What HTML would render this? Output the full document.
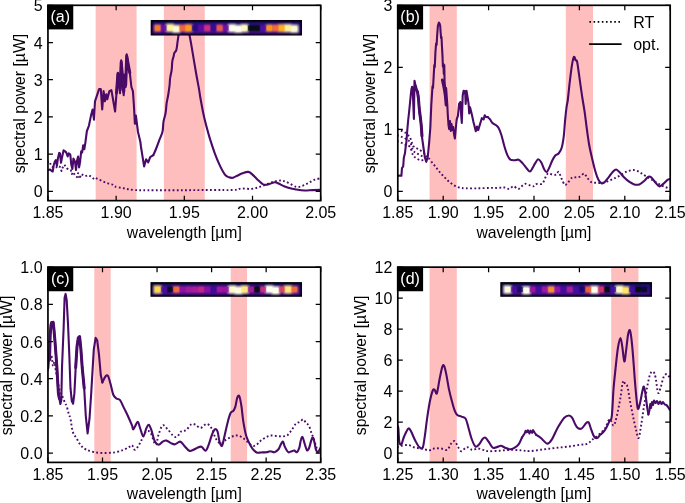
<!DOCTYPE html><html><head><meta charset="utf-8"><style>html,body{margin:0;padding:0;background:#fff;}svg{display:block;will-change:transform;}text{font-family:"Liberation Sans", sans-serif;font-size:16px;fill:#000;}</style></head><body>
<svg width="685" height="503" viewBox="0 0 685 503">
<defs><filter id="bl" x="-5%" y="-30%" width="110%" height="160%"><feGaussianBlur stdDeviation="1.0"/></filter><linearGradient id="sg" x1="0" y1="0" x2="0" y2="1"><stop offset="0" stop-color="#1e0874"/><stop offset="0.45" stop-color="#380a90"/><stop offset="1" stop-color="#4a0c9a"/></linearGradient><filter id="bl2"><feGaussianBlur stdDeviation="0.35"/></filter><filter id="bl3" x="-50%" y="-50%" width="200%" height="200%"><feGaussianBlur stdDeviation="0.5"/></filter></defs>
<rect width="685" height="503" fill="#fff"/>
<clipPath id="clipa"><rect x="47.95" y="5.30" width="272.75" height="195.35"/></clipPath>
<g clip-path="url(#clipa)">
<rect x="95.68" y="5.30" width="40.91" height="195.35" fill="#ffbebe"/>
<rect x="163.87" y="5.30" width="40.91" height="195.35" fill="#ffbebe"/>
<path d="M47.0,162.0 L49.5,161.5 L51.2,165.9 L53.8,167.9 L56.3,167.4 L57.4,165.9 L60.0,166.9 L61.5,171.0 L62.5,167.9 L64.4,164.8 L66.7,168.4 L70.8,170.0 L71.9,174.1 L72.9,172.1 L75.0,175.2 L77.0,177.2 L78.1,173.1 L79.6,178.8 L81.2,174.1 L85.3,176.2 L88.4,175.2 L91.5,176.7 L94.1,179.3 L95.6,178.1 L99.8,179.8" fill="none" stroke="#4a0b68" stroke-width="1.9" stroke-dasharray="1.8 2.35" stroke-linejoin="round"/>
<path d="M99.8,179.8 C100.5,180.2 102.5,181.3 103.9,181.9 C105.3,182.5 106.6,183.0 108.0,183.4 C109.4,183.8 111.1,184.0 112.2,184.5 C113.3,185.0 112.9,185.9 114.8,186.5 C116.7,187.1 120.5,187.7 123.7,188.3 C126.9,188.9 129.8,189.7 133.9,190.0 C138.0,190.3 140.0,190.2 148.0,190.2 C156.0,190.2 171.2,190.2 182.0,190.2 C192.8,190.2 204.2,190.0 212.7,190.0 C221.2,190.0 228.3,190.2 233.1,190.0 C237.9,189.8 238.2,188.7 241.3,188.5 C244.4,188.3 248.4,189.2 251.5,188.9 C254.6,188.6 257.0,187.8 259.7,186.9 C262.4,186.1 265.1,184.8 267.8,183.8 C270.5,182.8 273.6,181.6 276.0,181.1 C278.4,180.6 280.1,180.4 282.1,180.7 C284.2,181.0 285.9,181.8 288.3,182.8 C290.7,183.8 294.0,186.4 296.4,186.9 C298.8,187.4 300.6,186.5 302.6,185.8 C304.7,185.1 306.7,183.8 308.7,182.8 C310.7,181.8 312.6,180.5 314.8,179.7 C317.0,178.9 320.8,178.3 322.0,178.0" fill="none" stroke="#4a0b68" stroke-width="1.9" stroke-dasharray="1.8 2.35" stroke-linejoin="round"/>
<path d="M47.0,170.0 L48.6,170.0 L50.1,169.5 L51.7,171.0 L52.7,171.5 L53.8,164.8 L54.8,161.7 L55.8,160.2 L56.9,165.9 L57.9,158.6 L59.2,152.9 L60.0,153.4 L61.0,162.8 L62.0,157.6 L63.6,150.3 L65.1,151.4 L66.2,152.4 L67.7,156.5 L68.8,153.4 L70.3,154.5 L71.3,164.8 L72.4,169.0 L73.4,158.6 L75.0,161.7 L76.0,170.0 L77.0,160.7 L78.1,156.5 L79.1,167.4 L80.1,161.7 L81.2,151.4 L82.2,152.4 L83.2,145.2 L84.3,149.3 L85.3,143.1 L86.9,131.0 L88.9,125.8 L91.0,115.6 L92.6,109.5 L94.0,119.7 L95.0,101.3 L97.1,95.2 L99.1,89.0 L100.8,89.0 L102.2,109.5 L103.6,91.1 L104.9,101.3 L106.3,94.2 L107.3,99.3 L109.4,91.1 L111.4,90.1 L113.0,99.3 L115.1,111.5 L116.5,93.1 L117.9,72.7 L119.2,80.9 L120.0,93.1 L121.2,60.4 L122.6,80.9 L123.7,95.2 L124.7,74.7 L125.7,87.0 L126.7,54.3 L128.2,64.5 L129.8,72.7 L131.4,87.0 L132.9,91.1 L133.9,105.4 L134.9,123.8 L135.9,115.6 L138.0,132.0 L140.4,142.0 L141.0,147.0 L144.1,166.4 L146.1,159.3 L148.2,162.3 L150.2,157.2 L153.3,155.2" fill="none" stroke="#4a0b68" stroke-width="2.1" stroke-linejoin="round" stroke-linecap="round"/>
<path d="M153.3,155.2 C153.8,154.0 155.4,150.6 156.4,148.0 C157.4,145.4 158.4,142.6 159.4,139.9 C160.4,137.2 161.8,134.7 162.5,131.7 C163.2,128.7 163.0,124.8 163.5,121.7 C164.0,118.6 165.1,116.0 165.6,113.0 C166.1,110.0 166.2,106.4 166.6,103.4 C167.0,100.4 167.7,98.1 168.2,95.0 C168.7,91.9 169.3,87.9 169.6,85.0 C169.9,82.1 169.8,80.2 170.2,77.7 C170.5,75.2 171.3,72.7 171.7,70.0 C172.0,67.3 172.0,63.6 172.3,61.3 C172.6,59.0 173.4,57.4 173.7,56.0 C174.0,54.6 173.9,54.1 174.3,53.1 C174.7,52.1 175.8,51.8 176.3,50.1 C176.8,48.4 177.1,45.3 177.4,42.9 C177.8,40.5 178.1,37.6 178.4,35.8 C178.8,34.0 178.9,33.0 179.5,32.0 C180.1,31.0 181.1,30.3 182.0,30.0 C182.9,29.7 184.0,29.7 185.0,30.0 C186.0,30.3 187.2,31.0 188.0,32.0 C188.8,33.0 188.8,32.3 189.6,35.8 C190.4,39.3 191.7,47.1 192.7,53.1 C193.7,59.1 194.8,65.7 195.8,71.5 C196.8,77.3 198.0,83.5 198.8,87.9 C199.6,92.3 199.6,93.6 200.4,98.0 C201.2,102.4 202.5,109.5 203.5,114.3 C204.5,119.1 205.3,122.2 206.5,126.6 C207.7,131.0 209.2,136.5 210.6,140.9 C212.0,145.3 213.2,149.0 214.7,153.1 C216.2,157.2 218.1,161.8 219.8,165.4 C221.5,169.0 223.4,172.6 224.9,174.6 C226.4,176.6 227.6,176.8 229.0,177.3 C230.4,177.8 231.6,178.0 233.1,177.7 C234.6,177.3 236.5,176.0 238.2,175.2 C239.9,174.4 241.6,173.6 243.3,173.0 C245.0,172.4 246.9,171.6 248.4,171.9 C249.9,172.2 251.0,173.3 252.5,174.6 C254.0,175.9 255.9,178.1 257.6,179.7 C259.3,181.3 261.3,183.3 262.7,184.2 C264.1,185.0 264.6,184.9 265.8,184.8 C267.0,184.7 268.4,184.2 269.9,183.8 C271.4,183.4 273.5,182.2 275.0,182.2 C276.5,182.2 277.6,183.1 279.1,183.8 C280.6,184.5 282.3,185.4 284.2,186.2 C286.1,186.9 288.3,187.8 290.3,188.3 C292.3,188.9 294.0,189.1 296.4,189.5 C298.8,189.9 301.9,190.4 304.6,190.5 C307.3,190.6 309.9,190.2 312.8,190.1 C315.7,190.0 320.5,189.9 322.0,189.9" fill="none" stroke="#4a0b68" stroke-width="2.1" stroke-linejoin="round" stroke-linecap="round"/>
<path d="M116.5,93.0 L117.9,74.0 L119.2,80.0 L120.2,90.0 L121.2,62.0 L122.6,78.0 L123.7,92.0 L124.7,75.0 L125.7,85.0 L126.7,56.0 L128.2,64.5 L129.8,72.7" fill="none" stroke="#4a0b68" stroke-width="3.0" stroke-linejoin="round" stroke-linecap="round"/>
</g>
<rect x="150.70" y="20.00" width="151.30" height="15.50" fill="#000"/>
<g filter="url(#bl)">
<rect x="152.40" y="21.80" width="147.90" height="11.90" fill="url(#sg)"/>
<rect x="154.50" y="25.10" width="6.20" height="6.00" fill="#f57d25"/>
<rect x="160.71" y="25.10" width="6.20" height="6.00" fill="#6a0ea2"/>
<rect x="166.42" y="24.30" width="7.20" height="7.00" fill="#fff49a"/>
<rect x="172.63" y="25.50" width="7.20" height="7.00" fill="#fefad2"/>
<rect x="179.34" y="25.10" width="6.20" height="6.00" fill="#f0643c"/>
<rect x="185.05" y="24.60" width="7.20" height="7.00" fill="#fb9b1f"/>
<rect x="191.76" y="25.10" width="6.20" height="6.00" fill="#2a0a80"/>
<rect x="197.97" y="25.10" width="6.20" height="6.00" fill="#5a0ca4"/>
<rect x="204.18" y="25.10" width="6.20" height="6.00" fill="#c8307c"/>
<rect x="210.39" y="25.10" width="6.20" height="6.00" fill="#3a0a90"/>
<rect x="216.60" y="25.10" width="6.20" height="6.00" fill="#e65a4e"/>
<rect x="222.81" y="25.10" width="6.20" height="6.00" fill="#7010a0"/>
<rect x="228.52" y="24.60" width="7.20" height="7.00" fill="#fffff0"/>
<rect x="234.73" y="25.50" width="7.20" height="7.00" fill="#fffff0"/>
<rect x="240.94" y="24.60" width="7.20" height="7.00" fill="#fff8c8"/>
<rect x="247.65" y="25.10" width="6.20" height="6.00" fill="#061010"/>
<rect x="253.86" y="25.10" width="6.20" height="6.00" fill="#061010"/>
<rect x="260.07" y="25.10" width="6.20" height="6.00" fill="#4a10a0"/>
<rect x="266.28" y="25.10" width="6.20" height="6.00" fill="#fb9414"/>
<rect x="272.49" y="25.10" width="6.20" height="6.00" fill="#f06a3a"/>
<rect x="278.20" y="24.60" width="7.20" height="7.00" fill="#ffb020"/>
<rect x="284.41" y="24.60" width="7.20" height="7.00" fill="#fff0a0"/>
<rect x="290.62" y="25.40" width="7.20" height="7.00" fill="#fffbd8"/>
</g>
<rect x="155.00" y="25.60" width="5.20" height="5.00" fill="#f57d25" opacity="0.85"/>
<rect x="161.21" y="25.60" width="5.20" height="5.00" fill="#6a0ea2" opacity="0.85"/>
<rect x="167.42" y="25.30" width="5.20" height="5.00" fill="#fff49a" opacity="0.85"/>
<rect x="173.63" y="26.50" width="5.20" height="5.00" fill="#fefad2" opacity="0.85"/>
<rect x="179.84" y="25.60" width="5.20" height="5.00" fill="#f0643c" opacity="0.85"/>
<rect x="186.05" y="25.60" width="5.20" height="5.00" fill="#fb9b1f" opacity="0.85"/>
<rect x="192.26" y="25.60" width="5.20" height="5.00" fill="#2a0a80" opacity="0.85"/>
<rect x="198.47" y="25.60" width="5.20" height="5.00" fill="#5a0ca4" opacity="0.85"/>
<rect x="204.68" y="25.60" width="5.20" height="5.00" fill="#c8307c" opacity="0.85"/>
<rect x="210.89" y="25.60" width="5.20" height="5.00" fill="#3a0a90" opacity="0.85"/>
<rect x="217.10" y="25.60" width="5.20" height="5.00" fill="#e65a4e" opacity="0.85"/>
<rect x="223.31" y="25.60" width="5.20" height="5.00" fill="#7010a0" opacity="0.85"/>
<rect x="229.52" y="25.60" width="5.20" height="5.00" fill="#fffff0" opacity="0.85"/>
<rect x="235.73" y="26.50" width="5.20" height="5.00" fill="#fffff0" opacity="0.85"/>
<rect x="241.94" y="25.60" width="5.20" height="5.00" fill="#fff8c8" opacity="0.85"/>
<rect x="248.15" y="25.60" width="5.20" height="5.00" fill="#061010" opacity="0.85"/>
<rect x="254.36" y="25.60" width="5.20" height="5.00" fill="#061010" opacity="0.85"/>
<rect x="260.57" y="25.60" width="5.20" height="5.00" fill="#4a10a0" opacity="0.85"/>
<rect x="266.78" y="25.60" width="5.20" height="5.00" fill="#fb9414" opacity="0.85"/>
<rect x="272.99" y="25.60" width="5.20" height="5.00" fill="#f06a3a" opacity="0.85"/>
<rect x="279.20" y="25.60" width="5.20" height="5.00" fill="#ffb020" opacity="0.85"/>
<rect x="285.41" y="25.60" width="5.20" height="5.00" fill="#fff0a0" opacity="0.85"/>
<rect x="291.62" y="26.40" width="5.20" height="5.00" fill="#fffbd8" opacity="0.85"/>
<rect x="47.05" y="4.80" width="26.2" height="24.6" fill="#000"/>
<text x="60.25" y="21.80" text-anchor="middle" style="fill:#fff">(a)</text>
<rect x="47.95" y="5.30" width="272.75" height="195.35" fill="none" stroke="#000" stroke-width="1.70"/>
<text x="47.95" y="217.95" text-anchor="middle">1.85</text>
<text x="116.14" y="217.95" text-anchor="middle">1.90</text>
<text x="184.32" y="217.95" text-anchor="middle">1.95</text>
<text x="252.51" y="217.95" text-anchor="middle">2.00</text>
<text x="320.70" y="217.95" text-anchor="middle">2.05</text>
<text x="42.55" y="197.45" text-anchor="end">0</text>
<text x="42.55" y="160.24" text-anchor="end">1</text>
<text x="42.55" y="123.03" text-anchor="end">2</text>
<text x="42.55" y="85.82" text-anchor="end">3</text>
<text x="42.55" y="48.61" text-anchor="end">4</text>
<text x="42.55" y="11.40" text-anchor="end">5</text>
<path d="M47.95,200.65 v-5.00 M47.95,5.30 v5.00 M116.14,200.65 v-5.00 M116.14,5.30 v5.00 M184.32,200.65 v-5.00 M184.32,5.30 v5.00 M252.51,200.65 v-5.00 M252.51,5.30 v5.00 M320.70,200.65 v-5.00 M320.70,5.30 v5.00 M47.95,191.35 h5.00 M320.70,191.35 h-5.00 M47.95,154.14 h5.00 M320.70,154.14 h-5.00 M47.95,116.93 h5.00 M320.70,116.93 h-5.00 M47.95,79.72 h5.00 M320.70,79.72 h-5.00 M47.95,42.51 h5.00 M320.70,42.51 h-5.00 M47.95,5.30 h5.00 M320.70,5.30 h-5.00" stroke="#000" stroke-width="1.25" fill="none"/>
<text x="184.32" y="237.50" text-anchor="middle" style="font-size:15.75px">wavelength [µm]</text>
<text transform="translate(25.10,103.58) rotate(-90)" text-anchor="middle" style="font-size:15.75px">spectral power [µW]</text>
<clipPath id="clipb"><rect x="397.80" y="5.30" width="272.40" height="195.35"/></clipPath>
<g clip-path="url(#clipb)">
<rect x="429.58" y="5.30" width="27.24" height="195.35" fill="#ffbebe"/>
<rect x="565.78" y="5.30" width="27.24" height="195.35" fill="#ffbebe"/>
<path d="M397.0,141.0 C397.8,141.3 400.5,142.3 402.0,143.0 C403.5,143.7 404.7,144.3 406.0,145.0 C407.3,145.7 408.8,145.3 410.0,147.0 C411.2,148.7 412.0,153.2 413.0,155.0 C414.0,156.8 414.8,157.2 416.0,158.0 C417.2,158.8 418.7,159.7 420.0,160.0 C421.3,160.3 422.6,160.2 424.0,160.0 C425.4,159.8 427.9,158.8 428.7,158.5" fill="none" stroke="#4a0b68" stroke-width="1.9" stroke-dasharray="1.8 2.35" stroke-linejoin="round"/>
<path d="M397.0,135.0 C397.8,135.3 400.5,136.3 402.0,137.0 C403.5,137.7 404.7,138.2 406.0,139.0 C407.3,139.8 408.8,140.2 410.0,142.0 C411.2,143.8 412.0,148.2 413.0,150.0 C414.0,151.8 414.8,152.2 416.0,153.0 C417.2,153.8 418.7,154.3 420.0,155.0 C421.3,155.7 422.6,156.5 424.0,157.0 C425.4,157.5 427.9,158.0 428.7,158.2" fill="none" stroke="#4a0b68" stroke-width="1.9" stroke-dasharray="1.8 2.35" stroke-linejoin="round"/>
<path d="M397.0,129.0 L402.0,131.0 L406.0,133.0 L410.0,137.0 L413.0,146.0 L416.0,148.0 L420.0,150.0 L424.0,153.0 L428.7,158.2" fill="none" stroke="#4a0b68" stroke-width="1.9" stroke-dasharray="1.8 2.35" stroke-linejoin="round"/>
<path d="M428.7,158.2 C429.4,159.1 431.4,161.7 432.8,163.4 C434.2,165.1 435.5,166.8 436.9,168.5 C438.3,170.2 439.6,172.1 441.0,173.6 C442.4,175.1 443.6,176.3 445.0,177.7 C446.4,179.0 447.6,180.4 449.1,181.7 C450.6,183.0 452.5,184.4 454.2,185.4 C455.9,186.4 457.5,187.0 459.4,187.5 C461.3,188.0 462.4,188.2 465.5,188.3 C468.6,188.4 473.6,188.4 477.7,188.3 C481.8,188.2 486.6,188.0 490.0,187.9 C493.4,187.8 495.8,188.0 498.2,187.9 C500.6,187.8 502.4,187.3 504.3,187.5 C506.2,187.7 507.9,189.1 509.4,188.9 C510.9,188.7 512.0,186.2 513.5,186.2 C515.0,186.2 516.7,189.3 518.6,188.9 C520.5,188.5 522.8,184.3 524.8,183.8 C526.8,183.3 529.4,185.4 530.9,185.8 C532.4,186.2 533.0,186.5 534.0,186.2 C535.0,185.9 535.6,184.2 537.0,183.8 C538.4,183.4 540.8,184.8 542.2,183.8 C543.6,182.8 544.3,179.5 545.3,177.7 C546.3,175.9 547.1,173.7 548.3,173.2 C549.5,172.7 551.0,174.4 552.4,174.6 C553.8,174.8 555.5,175.0 556.5,174.6 C557.5,174.2 557.8,171.2 558.6,171.9 C559.5,172.6 560.6,176.5 561.6,178.7 C562.6,180.8 563.7,184.1 564.7,184.8 C565.7,185.5 566.6,184.0 567.8,182.8 C569.0,181.6 570.5,178.6 571.9,177.7 C573.2,176.8 574.5,177.5 575.9,177.3 C577.2,177.1 578.6,177.2 580.0,176.6 C581.4,176.0 582.9,173.4 584.1,173.6 C585.3,173.8 586.0,176.3 587.2,177.7 C588.4,179.1 589.8,181.3 591.3,182.2 C592.8,183.0 594.7,182.7 596.4,182.8 C598.1,182.9 599.6,183.1 601.5,182.8 C603.4,182.6 605.6,182.0 607.6,181.3 C609.6,180.6 611.7,179.6 613.7,178.7 C615.8,177.8 617.7,176.8 619.9,175.6 C622.1,174.4 624.6,172.4 627.0,171.5 C629.4,170.6 632.0,169.9 634.2,170.1 C636.4,170.3 638.3,171.5 640.3,172.6 C642.3,173.7 644.3,175.3 646.4,176.6 C648.5,177.9 650.5,179.1 652.6,180.3 C654.7,181.5 656.7,182.7 658.7,183.8 C660.7,184.9 662.6,186.0 664.8,186.9 C667.0,187.8 670.8,188.7 672.0,189.0" fill="none" stroke="#4a0b68" stroke-width="1.9" stroke-dasharray="1.8 2.35" stroke-linejoin="round"/>
<path d="M397.0,176.0 L398.5,175.5 L401.4,175.8 L402.0,168.0 L403.2,166.3 L403.8,158.0 L405.0,153.0 L405.5,148.4 L406.5,141.0 L407.3,129.7 L408.2,120.0 L409.1,111.8 L410.0,103.0 L410.9,93.9 L411.5,89.0 L412.1,86.7 L412.7,88.0 L413.3,105.0 L413.9,119.0 L414.2,100.0 L414.5,80.7 L415.2,84.0 L415.7,88.0 L416.5,90.0 L417.5,91.5 L418.2,96.0 L418.7,100.0 L419.3,112.0 L420.5,118.0 L421.2,125.0 L421.8,135.6 L423.3,146.5 L424.9,157.5 L426.2,161.8 L427.7,157.5 L429.2,142.2 L430.3,128.0 L431.3,104.8 L432.5,86.4 L433.0,88.0 L433.6,77.5 L434.3,65.0 L434.8,67.0 L435.4,52.5 L436.1,43.6 L436.6,45.0 L437.1,36.4 L437.9,25.7 L438.9,22.5 L439.6,23.5 L440.2,25.7 L440.6,32.0 L441.1,38.2 L441.5,37.0 L442.0,47.1 L442.5,56.1 L442.9,66.8 L443.4,64.0 L443.8,73.9 L444.3,65.0 L444.6,82.9 L445.5,90.0 L446.1,88.0 L446.4,91.8 L447.3,104.8 L447.8,115.0 L448.5,125.0 L449.2,129.0 L450.0,121.0 L450.8,131.0 L451.5,124.0 L452.3,130.0 L453.2,127.0 L454.0,134.0 L454.9,138.5 L455.8,128.0 L456.7,119.4 L457.9,115.8 L459.1,103.9 L460.3,102.0 L461.2,115.8 L461.8,123.0 L462.7,95.5 L463.6,90.7 L465.1,91.3 L465.7,103.9 L466.5,90.7 L467.7,97.9 L468.6,103.9 L469.2,113.4 L470.1,107.4 L471.6,113.4 L473.4,121.8 L474.6,126.5 L475.8,131.3 L477.0,126.5 L478.2,130.1 L480.0,124.2 L481.8,118.2 L483.6,119.4 L484.7,115.2 L485.9,117.0 L487.7,117.0" fill="none" stroke="#4a0b68" stroke-width="2.1" stroke-linejoin="round" stroke-linecap="round"/>
<path d="M487.7,117.0 C488.1,117.4 489.3,118.4 490.1,119.4 C490.9,120.4 491.5,122.0 492.5,123.0 C493.5,124.0 495.1,124.5 496.1,125.3 C497.1,126.1 497.6,126.1 498.5,127.7 C499.4,129.3 500.3,131.6 501.3,134.7 C502.3,137.8 503.3,142.6 504.3,146.0 C505.3,149.4 506.4,152.9 507.4,155.2 C508.4,157.5 509.2,158.8 510.4,159.7 C511.6,160.5 513.1,160.3 514.5,160.3 C515.9,160.3 517.2,159.2 518.6,159.7 C520.0,160.2 521.3,161.9 522.7,163.4 C524.1,164.9 525.6,167.2 526.8,168.5 C528.0,169.8 528.9,171.7 529.9,171.5 C530.9,171.3 532.0,168.8 532.9,167.4 C533.8,166.1 534.2,164.8 535.1,163.4 C536.0,162.1 537.1,159.5 538.1,159.3 C539.1,159.1 540.2,160.6 541.2,162.3 C542.2,164.0 543.4,167.9 544.3,169.5 C545.2,171.1 545.9,172.2 546.7,171.9 C547.6,171.6 548.5,169.3 549.4,167.4 C550.3,165.5 551.4,162.3 552.4,160.3 C553.4,158.3 554.5,156.3 555.5,155.2 C556.5,154.1 557.6,154.7 558.6,153.5 C559.6,152.3 560.8,150.8 561.6,148.0 C562.5,145.2 563.1,141.4 563.7,136.8 C564.3,132.2 564.6,125.5 565.1,120.4 C565.6,115.3 566.2,109.5 566.7,106.1 C567.2,102.7 567.3,104.1 567.8,100.0 C568.3,95.9 569.1,87.5 569.8,81.7 C570.5,75.9 571.3,69.4 571.9,65.4 C572.5,61.4 573.1,59.2 573.5,57.8 C573.9,56.4 574.2,56.8 574.5,57.2 C574.8,57.6 575.1,59.6 575.5,60.3 C575.9,61.0 576.5,59.4 577.0,61.3 C577.5,63.2 578.0,67.4 578.6,71.5 C579.2,75.6 579.9,81.0 580.6,85.8 C581.3,90.5 582.0,95.6 582.7,100.0 C583.4,104.4 584.0,107.5 584.7,112.3 C585.4,117.1 586.0,123.1 586.8,128.6 C587.5,134.0 588.3,139.9 589.2,145.0 C590.1,150.1 591.3,154.9 592.3,159.3 C593.3,163.7 594.4,168.1 595.4,171.5 C596.4,174.9 597.4,177.8 598.4,179.7 C599.4,181.6 600.5,182.8 601.5,183.2 C602.5,183.6 603.4,183.2 604.6,182.2 C605.8,181.2 607.2,179.0 608.6,177.3 C610.0,175.6 611.4,173.2 612.7,171.9 C614.0,170.6 615.0,169.4 616.2,169.5 C617.4,169.6 618.6,171.3 619.9,172.6 C621.2,173.9 622.5,175.8 624.0,177.3 C625.5,178.8 627.4,180.5 629.1,181.7 C630.8,182.9 632.5,183.9 634.2,184.4 C635.9,184.9 637.6,185.0 639.3,184.4 C641.0,183.8 642.9,182.0 644.4,180.7 C645.9,179.4 647.3,177.1 648.5,176.6 C649.7,176.1 650.4,176.7 651.6,177.7 C652.8,178.7 654.2,181.4 655.6,182.8 C657.0,184.2 658.3,186.3 659.7,186.4 C661.1,186.5 662.4,184.5 663.8,183.4 C665.2,182.3 666.5,180.5 667.9,179.7 C669.3,178.9 671.3,178.7 672.0,178.5" fill="none" stroke="#4a0b68" stroke-width="2.1" stroke-linejoin="round" stroke-linecap="round"/>
<path d="M415.3,86.0 L416.5,90.0 L417.5,92.0 L418.4,98.0 L419.2,108.0 L420.3,117.0 L421.3,126.0 L422.0,136.0" fill="none" stroke="#4a0b68" stroke-width="3.0" stroke-linejoin="round" stroke-linecap="round"/>
<path d="M442.4,80.0 L443.5,85.0 L444.5,90.0 L445.4,96.0 L446.2,105.0" fill="none" stroke="#4a0b68" stroke-width="3.0" stroke-linejoin="round" stroke-linecap="round"/>
</g>
<rect x="396.90" y="4.80" width="26.2" height="24.6" fill="#000"/>
<text x="410.10" y="21.80" text-anchor="middle" style="fill:#fff">(b)</text>
<rect x="397.80" y="5.30" width="272.40" height="195.35" fill="none" stroke="#000" stroke-width="1.70"/>
<text x="397.80" y="217.95" text-anchor="middle">1.85</text>
<text x="443.20" y="217.95" text-anchor="middle">1.90</text>
<text x="488.60" y="217.95" text-anchor="middle">1.95</text>
<text x="534.00" y="217.95" text-anchor="middle">2.00</text>
<text x="579.40" y="217.95" text-anchor="middle">2.05</text>
<text x="624.80" y="217.95" text-anchor="middle">2.10</text>
<text x="670.20" y="217.95" text-anchor="middle">2.15</text>
<text x="392.40" y="197.45" text-anchor="end">0</text>
<text x="392.40" y="135.43" text-anchor="end">1</text>
<text x="392.40" y="73.42" text-anchor="end">2</text>
<text x="392.40" y="11.40" text-anchor="end">3</text>
<path d="M397.80,200.65 v-5.00 M397.80,5.30 v5.00 M443.20,200.65 v-5.00 M443.20,5.30 v5.00 M488.60,200.65 v-5.00 M488.60,5.30 v5.00 M534.00,200.65 v-5.00 M534.00,5.30 v5.00 M579.40,200.65 v-5.00 M579.40,5.30 v5.00 M624.80,200.65 v-5.00 M624.80,5.30 v5.00 M670.20,200.65 v-5.00 M670.20,5.30 v5.00 M397.80,191.35 h5.00 M670.20,191.35 h-5.00 M397.80,129.33 h5.00 M670.20,129.33 h-5.00 M397.80,67.32 h5.00 M670.20,67.32 h-5.00 M397.80,5.30 h5.00 M670.20,5.30 h-5.00" stroke="#000" stroke-width="1.25" fill="none"/>
<text x="534.00" y="237.50" text-anchor="middle" style="font-size:15.75px">wavelength [µm]</text>
<text transform="translate(374.95,103.58) rotate(-90)" text-anchor="middle" style="font-size:15.75px">spectral power [µW]</text>
<clipPath id="clipc"><rect x="47.95" y="267.15" width="272.75" height="195.25"/></clipPath>
<g clip-path="url(#clipc)">
<rect x="94.32" y="267.15" width="16.37" height="195.25" fill="#ffbebe"/>
<rect x="230.69" y="267.15" width="16.36" height="195.25" fill="#ffbebe"/>
<path d="M47.0,360.0 C47.3,358.7 48.1,352.0 48.6,352.0 C49.1,352.0 49.5,359.3 50.0,360.0 C50.5,360.7 51.0,355.0 51.5,356.0 C52.0,357.0 52.5,365.0 53.0,366.0 C53.5,367.0 54.0,361.0 54.5,362.0 C55.0,363.0 55.5,369.3 56.0,372.0 C56.5,374.7 57.1,375.3 57.6,378.0 C58.1,380.7 58.4,385.5 59.0,388.0 C59.6,390.5 60.3,391.3 61.0,393.0 C61.7,394.7 62.3,396.2 63.0,398.0 C63.7,399.8 64.8,402.4 65.4,403.7 C66.0,405.0 66.2,404.4 66.7,406.0 C67.2,407.6 67.9,410.8 68.5,413.0 C69.1,415.2 69.8,415.8 70.5,419.0 C71.2,422.2 71.8,428.8 72.9,432.1 C74.0,435.4 75.6,436.6 76.9,438.8 C78.2,441.0 79.3,443.7 80.9,445.5 C82.5,447.3 84.0,448.5 86.3,449.6 C88.5,450.7 91.3,451.6 94.4,452.2 C97.5,452.8 101.5,453.0 105.1,453.0 C108.7,453.0 112.8,452.8 115.9,452.2 C119.0,451.6 121.7,450.5 123.9,449.6 C126.1,448.7 128.0,447.6 129.3,446.9 C130.7,446.2 131.0,444.7 132.0,445.2 C133.0,445.7 133.7,450.2 135.1,449.8 C136.5,449.4 138.5,445.6 140.2,442.7 C141.9,439.8 143.6,434.1 145.3,432.4 C147.0,430.7 148.7,430.3 150.4,432.4 C152.1,434.4 154.1,444.3 155.5,444.7 C156.9,445.1 157.4,437.7 158.6,434.5 C159.8,431.3 161.2,426.2 162.7,425.3 C164.2,424.4 166.1,427.7 167.8,429.4 C169.5,431.1 171.4,434.2 172.9,435.5 C174.4,436.8 175.6,437.6 177.0,436.9 C178.4,436.2 179.6,432.5 181.1,431.4 C182.6,430.2 184.5,431.2 186.2,430.0 C187.9,428.8 189.8,425.2 191.3,424.3 C192.8,423.4 193.9,424.1 195.4,424.7 C196.9,425.3 198.6,428.1 200.5,428.0 C202.4,427.9 204.7,423.8 206.6,423.9 C208.5,424.0 210.2,425.9 211.7,428.4 C213.2,430.8 214.3,436.1 215.8,438.6 C217.3,441.2 219.2,443.5 220.9,443.7 C222.6,443.9 224.2,440.8 226.1,439.6 C228.0,438.4 230.3,437.2 232.2,436.5 C234.1,435.8 235.6,435.3 237.3,435.5 C239.0,435.7 240.8,436.6 242.4,437.6 C244.0,438.6 245.4,440.1 247.0,441.5 C248.6,442.9 250.7,445.1 252.2,445.7 C253.7,446.3 254.8,445.9 256.2,445.1 C257.6,444.3 258.8,442.4 260.3,441.1 C261.8,439.9 263.7,438.5 265.4,437.6 C267.1,436.7 268.5,435.9 270.4,435.6 C272.2,435.3 274.5,435.9 276.5,436.0 C278.5,436.1 280.7,436.6 282.6,436.4 C284.5,436.2 286.2,436.1 287.7,435.0 C289.2,433.9 290.3,431.8 291.7,429.9 C293.1,428.0 294.4,425.1 295.8,423.8 C297.2,422.5 298.6,422.5 299.8,421.8 C301.1,421.1 302.3,419.2 303.3,419.4 C304.3,419.6 304.9,421.7 305.9,422.8 C306.8,423.9 308.1,424.2 309.0,425.9 C309.9,427.6 310.7,431.0 311.4,433.0 C312.1,435.0 312.6,435.8 313.4,438.0 C314.2,440.2 315.3,443.7 316.1,446.1 C316.9,448.5 317.3,451.6 318.1,452.2 C318.9,452.8 320.5,450.4 321.0,450.0" fill="none" stroke="#4a0b68" stroke-width="1.9" stroke-dasharray="1.8 2.35" stroke-linejoin="round"/>
<path d="M47.0,372.0 L48.3,368.0 L49.3,355.0 L50.2,335.0 L51.0,325.0 L51.7,322.5 L52.4,326.0 L53.2,322.3 L54.0,330.0 L55.0,341.7 L56.0,355.0 L56.9,367.5 L57.7,382.0 L58.4,393.4 L59.4,398.5 L60.4,404.0 L61.3,400.0 L62.0,367.5 L62.8,348.0 L63.6,328.8 L64.6,297.8 L65.6,293.9 L66.7,300.3 L68.0,323.6 L69.3,354.6 L70.5,388.2 L71.8,401.1 L73.1,403.7 L74.4,393.4 L75.7,367.5 L77.0,346.8 L78.3,337.8 L79.6,336.5 L80.9,349.4 L82.2,367.5 L84.2,388.2 L85.8,416.0 L87.6,433.4 L89.5,418.7 L91.2,393.4 L93.8,349.4 L95.6,337.8 L97.2,340.4 L99.0,354.6 L100.8,375.3 L102.4,382.4" fill="none" stroke="#4a0b68" stroke-width="2.1" stroke-linejoin="round" stroke-linecap="round"/>
<path d="M102.4,382.4 C102.9,381.5 104.2,378.1 105.1,377.0 C106.0,375.9 106.9,374.6 107.8,375.7 C108.7,376.8 109.6,380.6 110.5,383.7 C111.4,386.8 112.2,392.0 113.2,394.5 C114.2,397.0 115.3,397.6 116.4,398.5 C117.5,399.4 118.7,398.3 119.9,399.9 C121.2,401.5 122.6,405.2 123.9,407.9 C125.2,410.6 126.6,413.1 127.9,416.0 C129.2,418.9 131.1,423.2 132.0,425.4 C132.9,427.6 132.6,429.2 133.1,429.4 C133.6,429.5 134.3,427.6 135.1,426.3 C135.9,425.0 137.0,421.5 137.8,421.8 C138.7,422.1 139.3,425.9 140.2,428.4 C141.1,430.8 142.3,436.5 143.3,436.5 C144.3,436.5 145.4,430.4 146.3,428.4 C147.2,426.4 147.9,424.4 148.8,424.7 C149.7,425.0 150.6,427.8 151.5,430.4 C152.4,433.0 153.3,438.2 154.5,440.6 C155.7,443.0 157.2,444.5 158.6,444.7 C160.0,444.9 161.4,442.3 162.7,441.6 C164.0,440.9 165.0,440.4 166.4,440.6 C167.8,440.9 169.5,442.5 170.9,443.1 C172.3,443.7 173.5,444.6 175.0,444.3 C176.5,444.1 178.6,441.4 180.1,441.6 C181.6,441.8 182.7,444.2 184.2,445.7 C185.7,447.2 187.8,450.1 189.3,450.8 C190.8,451.5 192.1,450.3 193.4,449.8 C194.8,449.3 196.1,448.3 197.4,447.8 C198.8,447.3 200.1,446.2 201.5,446.7 C202.9,447.2 204.4,451.1 205.6,450.8 C206.8,450.5 207.7,447.2 208.7,444.7 C209.7,442.1 210.7,438.1 211.7,435.5 C212.7,432.9 213.8,430.1 214.8,429.4 C215.8,428.7 216.7,429.4 217.5,431.4 C218.3,433.4 218.8,439.2 219.5,441.6 C220.2,444.0 221.2,446.6 222.0,445.7 C222.8,444.8 223.5,440.4 224.4,436.5 C225.3,432.6 226.7,426.1 227.7,422.2 C228.7,418.3 229.7,414.9 230.6,413.0 C231.5,411.1 232.4,412.0 233.2,411.0 C234.0,410.0 234.6,409.1 235.3,406.9 C236.0,404.7 236.6,399.5 237.3,397.7 C238.0,395.9 238.6,394.7 239.3,396.1 C240.0,397.5 240.7,401.5 241.4,405.9 C242.1,410.2 242.6,417.3 243.4,422.2 C244.2,427.1 245.1,431.9 246.1,435.5 C247.1,439.1 248.5,441.5 249.6,443.7 C250.7,445.9 251.4,447.3 252.6,448.8 C253.8,450.3 255.3,451.9 256.7,452.5 C258.1,453.1 259.2,452.6 260.8,452.5 C262.4,452.4 264.8,452.4 266.4,452.2 C268.0,452.0 269.0,451.2 270.4,451.2 C271.8,451.2 273.1,452.5 274.5,452.2 C275.9,451.9 277.4,450.5 278.5,449.2 C279.6,447.9 280.2,445.4 281.0,444.1 C281.8,442.9 282.3,441.2 283.0,441.7 C283.7,442.2 284.1,445.4 285.0,447.1 C285.9,448.9 287.2,451.5 288.3,452.2 C289.4,452.9 290.7,451.5 291.7,451.2 C292.7,450.9 293.5,450.4 294.4,450.6 C295.2,450.8 296.0,452.6 296.8,452.2 C297.6,451.8 298.5,450.2 299.2,448.2 C299.9,446.2 300.3,441.9 300.9,440.0 C301.4,438.1 301.9,436.5 302.5,437.0 C303.1,437.5 303.8,440.9 304.5,443.1 C305.2,445.3 306.1,449.4 306.9,450.2 C307.6,451.0 308.2,449.9 309.0,448.2 C309.8,446.5 310.7,441.8 311.4,440.0 C312.1,438.2 312.5,437.1 313.0,437.6 C313.5,438.1 314.1,441.0 314.6,443.1 C315.1,445.2 315.5,448.7 316.1,450.2 C316.7,451.7 317.5,452.3 318.1,452.2 C318.7,452.1 319.0,450.7 319.5,449.8 C320.0,448.9 320.8,447.5 321.0,447.0" fill="none" stroke="#4a0b68" stroke-width="2.1" stroke-linejoin="round" stroke-linecap="round"/>
<path d="M49.5,360.0 L50.2,335.0 L51.0,325.0 L51.7,322.5 L52.4,326.0 L53.2,322.3 L54.0,330.0 L55.0,341.7 L56.0,355.0 L56.9,367.5 L57.7,382.0 L58.4,393.4 L59.4,398.5" fill="none" stroke="#4a0b68" stroke-width="3.0" stroke-linejoin="round" stroke-linecap="round"/>
<path d="M75.7,367.5 L77.0,346.8 L78.3,337.8 L79.6,336.5 L80.9,349.4 L82.2,367.5 L84.2,388.2" fill="none" stroke="#4a0b68" stroke-width="3.0" stroke-linejoin="round" stroke-linecap="round"/>
</g>
<rect x="150.50" y="282.10" width="151.50" height="14.70" fill="#000"/>
<g filter="url(#bl)">
<rect x="152.20" y="283.90" width="148.10" height="11.10" fill="url(#sg)"/>
<rect x="154.10" y="286.00" width="7.20" height="7.00" fill="#fbd848"/>
<rect x="160.81" y="286.50" width="6.20" height="6.00" fill="#4e0c9e"/>
<rect x="167.02" y="286.50" width="6.20" height="6.00" fill="#0c0c28"/>
<rect x="173.23" y="286.50" width="6.20" height="6.00" fill="#f26a3c"/>
<rect x="179.44" y="286.50" width="6.20" height="6.00" fill="#8e12a2"/>
<rect x="185.65" y="286.50" width="6.20" height="6.00" fill="#a61a9a"/>
<rect x="191.86" y="286.50" width="6.20" height="6.00" fill="#aa1c96"/>
<rect x="198.07" y="286.50" width="6.20" height="6.00" fill="#c02888"/>
<rect x="204.28" y="286.50" width="6.20" height="6.00" fill="#8a10a0"/>
<rect x="210.49" y="286.50" width="6.20" height="6.00" fill="#3c0c98"/>
<rect x="216.70" y="286.50" width="6.20" height="6.00" fill="#a0189c"/>
<rect x="222.91" y="286.50" width="6.20" height="6.00" fill="#9a14a0"/>
<rect x="228.62" y="286.00" width="7.20" height="7.00" fill="#fffad0"/>
<rect x="234.83" y="287.00" width="7.20" height="7.00" fill="#fffce0"/>
<rect x="241.04" y="286.00" width="7.20" height="7.00" fill="#ffea80"/>
<rect x="247.75" y="286.50" width="6.20" height="6.00" fill="#a02096"/>
<rect x="253.96" y="286.50" width="6.20" height="6.00" fill="#061010"/>
<rect x="260.17" y="286.50" width="6.20" height="6.00" fill="#c82e84"/>
<rect x="265.88" y="285.70" width="7.20" height="7.00" fill="#fffff0"/>
<rect x="272.09" y="287.00" width="7.20" height="7.00" fill="#fffff0"/>
<rect x="278.80" y="286.50" width="6.20" height="6.00" fill="#d84468"/>
<rect x="284.51" y="286.00" width="7.20" height="7.00" fill="#ffe478"/>
<rect x="291.22" y="286.50" width="6.20" height="6.00" fill="#f06a40"/>
</g>
<rect x="155.10" y="287.00" width="5.20" height="5.00" fill="#fbd848" opacity="0.85"/>
<rect x="161.31" y="287.00" width="5.20" height="5.00" fill="#4e0c9e" opacity="0.85"/>
<rect x="167.52" y="287.00" width="5.20" height="5.00" fill="#0c0c28" opacity="0.85"/>
<rect x="173.73" y="287.00" width="5.20" height="5.00" fill="#f26a3c" opacity="0.85"/>
<rect x="179.94" y="287.00" width="5.20" height="5.00" fill="#8e12a2" opacity="0.85"/>
<rect x="186.15" y="287.00" width="5.20" height="5.00" fill="#a61a9a" opacity="0.85"/>
<rect x="192.36" y="287.00" width="5.20" height="5.00" fill="#aa1c96" opacity="0.85"/>
<rect x="198.57" y="287.00" width="5.20" height="5.00" fill="#c02888" opacity="0.85"/>
<rect x="204.78" y="287.00" width="5.20" height="5.00" fill="#8a10a0" opacity="0.85"/>
<rect x="210.99" y="287.00" width="5.20" height="5.00" fill="#3c0c98" opacity="0.85"/>
<rect x="217.20" y="287.00" width="5.20" height="5.00" fill="#a0189c" opacity="0.85"/>
<rect x="223.41" y="287.00" width="5.20" height="5.00" fill="#9a14a0" opacity="0.85"/>
<rect x="229.62" y="287.00" width="5.20" height="5.00" fill="#fffad0" opacity="0.85"/>
<rect x="235.83" y="288.00" width="5.20" height="5.00" fill="#fffce0" opacity="0.85"/>
<rect x="242.04" y="287.00" width="5.20" height="5.00" fill="#ffea80" opacity="0.85"/>
<rect x="248.25" y="287.00" width="5.20" height="5.00" fill="#a02096" opacity="0.85"/>
<rect x="254.46" y="287.00" width="5.20" height="5.00" fill="#061010" opacity="0.85"/>
<rect x="260.67" y="287.00" width="5.20" height="5.00" fill="#c82e84" opacity="0.85"/>
<rect x="266.88" y="286.70" width="5.20" height="5.00" fill="#fffff0" opacity="0.85"/>
<rect x="273.09" y="288.00" width="5.20" height="5.00" fill="#fffff0" opacity="0.85"/>
<rect x="279.30" y="287.00" width="5.20" height="5.00" fill="#d84468" opacity="0.85"/>
<rect x="285.51" y="287.00" width="5.20" height="5.00" fill="#ffe478" opacity="0.85"/>
<rect x="291.72" y="287.00" width="5.20" height="5.00" fill="#f06a40" opacity="0.85"/>
<rect x="47.05" y="266.65" width="26.2" height="24.6" fill="#000"/>
<text x="60.25" y="283.65" text-anchor="middle" style="fill:#fff">(c)</text>
<rect x="47.95" y="267.15" width="272.75" height="195.25" fill="none" stroke="#000" stroke-width="1.70"/>
<text x="47.95" y="479.70" text-anchor="middle">1.85</text>
<text x="102.50" y="479.70" text-anchor="middle">1.95</text>
<text x="157.05" y="479.70" text-anchor="middle">2.05</text>
<text x="211.60" y="479.70" text-anchor="middle">2.15</text>
<text x="266.15" y="479.70" text-anchor="middle">2.25</text>
<text x="320.70" y="479.70" text-anchor="middle">2.35</text>
<text x="42.55" y="459.20" text-anchor="end">0.0</text>
<text x="42.55" y="422.01" text-anchor="end">0.2</text>
<text x="42.55" y="384.82" text-anchor="end">0.4</text>
<text x="42.55" y="347.63" text-anchor="end">0.6</text>
<text x="42.55" y="310.44" text-anchor="end">0.8</text>
<text x="42.55" y="273.25" text-anchor="end">1.0</text>
<path d="M47.95,462.40 v-5.00 M47.95,267.15 v5.00 M102.50,462.40 v-5.00 M102.50,267.15 v5.00 M157.05,462.40 v-5.00 M157.05,267.15 v5.00 M211.60,462.40 v-5.00 M211.60,267.15 v5.00 M266.15,462.40 v-5.00 M266.15,267.15 v5.00 M320.70,462.40 v-5.00 M320.70,267.15 v5.00 M47.95,453.10 h5.00 M320.70,453.10 h-5.00 M47.95,415.91 h5.00 M320.70,415.91 h-5.00 M47.95,378.72 h5.00 M320.70,378.72 h-5.00 M47.95,341.53 h5.00 M320.70,341.53 h-5.00 M47.95,304.34 h5.00 M320.70,304.34 h-5.00 M47.95,267.15 h5.00 M320.70,267.15 h-5.00" stroke="#000" stroke-width="1.25" fill="none"/>
<text x="184.32" y="499.25" text-anchor="middle" style="font-size:15.75px">wavelength [µm]</text>
<text transform="translate(11.90,365.38) rotate(-90)" text-anchor="middle" style="font-size:15.75px">spectral power [µW]</text>
<clipPath id="clipd"><rect x="397.80" y="267.15" width="272.40" height="195.25"/></clipPath>
<g clip-path="url(#clipd)">
<rect x="429.58" y="267.15" width="27.24" height="195.25" fill="#ffbebe"/>
<rect x="611.18" y="267.15" width="27.24" height="195.25" fill="#ffbebe"/>
<path d="M397.0,447.1 C397.7,446.9 399.5,446.2 401.4,445.8 C403.3,445.4 406.0,444.7 408.3,445.0 C410.6,445.3 412.8,447.1 415.1,447.7 C417.4,448.3 419.6,448.1 421.9,448.5 C424.2,448.9 426.7,450.4 428.7,450.4 C430.7,450.4 432.1,448.8 434.1,448.5 C436.2,448.2 438.8,448.3 441.0,448.5 C443.2,448.7 445.6,450.6 447.2,449.9 C448.8,449.2 449.3,445.9 450.5,444.4 C451.7,442.9 453.3,440.7 454.6,441.1 C455.9,441.6 457.0,445.4 458.1,447.1 C459.2,448.8 459.9,451.2 461.4,451.2 C462.8,451.2 465.0,447.3 466.8,447.1 C468.6,446.9 470.5,449.7 472.3,449.9 C474.1,450.1 475.9,448.5 477.7,448.5 C479.5,448.5 481.4,449.4 483.2,449.9 C485.0,450.3 485.9,451.1 488.6,451.2 C491.3,451.3 495.9,450.9 499.5,450.7 C503.1,450.5 506.8,449.9 510.4,449.9 C514.0,449.8 518.0,450.2 521.3,450.4 C524.6,450.6 526.5,451.2 530.0,451.1 C533.5,451.0 538.3,450.0 542.5,449.5 C546.7,449.0 550.8,448.5 555.0,448.0 C559.2,447.5 563.3,447.2 567.5,446.7 C571.7,446.2 576.6,445.3 580.0,444.8 C583.4,444.3 585.6,444.5 587.7,443.6 C589.8,442.7 590.6,441.0 592.4,439.5 C594.2,438.0 596.6,436.6 598.7,434.8 C600.8,433.0 603.1,431.2 604.9,428.6 C606.7,426.0 608.1,419.7 609.6,419.2 C611.1,418.7 612.4,426.0 613.6,425.5 C614.8,425.0 615.6,420.8 616.8,416.1 C617.9,411.4 619.5,403.2 620.5,397.4 C621.5,391.6 622.2,383.4 623.0,381.2 C623.8,379.0 624.5,383.4 625.2,384.3 C625.9,385.2 626.6,383.8 627.4,386.5 C628.2,389.2 629.0,395.6 629.9,400.5 C630.8,405.4 632.0,411.2 633.0,416.1 C634.0,421.1 635.2,426.6 636.1,430.2 C637.0,433.8 637.8,438.8 638.6,438.0 C639.4,437.2 640.2,430.7 641.1,425.5 C642.0,420.3 642.9,413.1 643.9,406.8 C644.9,400.6 646.0,393.5 647.0,388.0 C648.0,382.5 649.2,376.7 650.2,374.0 C651.2,371.3 652.4,371.3 653.3,371.8 C654.2,372.3 654.7,373.6 655.5,377.1 C656.3,380.6 657.2,390.9 658.0,392.7 C658.8,394.5 659.6,390.6 660.5,388.0 C661.4,385.4 662.6,379.4 663.6,377.1 C664.6,374.8 665.7,374.0 666.7,374.0 C667.7,374.0 668.6,376.1 669.5,377.1 C670.4,378.1 671.6,379.5 672.0,380.0" fill="none" stroke="#4a0b68" stroke-width="1.9" stroke-dasharray="1.8 2.35" stroke-linejoin="round"/>
<path d="M397.0,425.0 C397.2,425.5 397.9,425.2 398.3,428.0 C398.7,430.8 398.8,439.0 399.3,441.7 C399.8,444.4 400.6,445.3 401.4,444.4 C402.2,443.5 403.0,438.8 404.2,436.2 C405.4,433.6 407.2,429.4 408.3,428.6 C409.4,427.8 409.9,429.4 411.0,431.3 C412.1,433.2 413.7,437.7 415.1,440.3 C416.5,442.9 417.9,445.9 419.2,447.1 C420.5,448.3 421.8,449.3 422.7,447.7 C423.6,446.1 423.8,442.7 424.6,437.6 C425.4,432.5 426.4,423.3 427.3,417.2 C428.2,411.1 429.1,405.2 430.0,400.8 C430.9,396.4 432.0,392.3 432.8,390.5 C433.6,388.7 434.0,389.4 434.7,389.9 C435.4,390.3 436.1,395.0 436.9,393.2 C437.7,391.4 438.7,383.4 439.6,379.0 C440.5,374.6 441.5,369.0 442.3,366.8 C443.1,364.6 443.5,364.6 444.2,366.0 C444.9,367.4 445.6,370.9 446.4,374.9 C447.2,378.9 448.2,385.6 449.1,389.9 C450.0,394.2 450.9,397.4 451.8,400.8 C452.7,404.2 453.7,408.0 454.6,410.4 C455.5,412.8 456.2,414.0 457.3,415.0 C458.4,416.0 460.0,416.0 461.4,416.6 C462.8,417.2 464.4,416.8 465.5,418.5 C466.6,420.2 467.2,423.3 468.2,426.7 C469.2,430.1 470.5,435.7 471.7,439.0 C472.9,442.3 474.3,445.7 475.5,446.6 C476.7,447.5 477.9,445.7 479.1,444.4 C480.3,443.1 481.6,440.1 482.6,439.0 C483.6,437.9 484.3,437.2 485.3,437.6 C486.3,438.1 487.4,440.0 488.6,441.7 C489.8,443.4 491.3,446.8 492.7,447.7 C494.1,448.6 495.4,447.4 496.8,447.1 C498.2,446.8 499.5,445.7 500.9,445.8 C502.3,445.9 503.4,447.1 505.0,447.7 C506.6,448.3 508.8,449.3 510.4,449.3 C512.0,449.3 513.1,448.5 514.5,447.7 C515.9,446.9 517.4,446.1 518.6,444.4 C519.8,442.7 521.4,438.7 521.9,437.6" fill="none" stroke="#4a0b68" stroke-width="2.1" stroke-linejoin="round" stroke-linecap="round"/>
<path d="M521.9,437.6 L524.6,433.5 L525.6,430.8 L526.8,432.3 L527.8,430.3 L529.5,433.5 L530.5,430.7 L532.2,432.8 L533.1,430.2 L534.9,433.0 L536.2,434.8" fill="none" stroke="#4a0b68" stroke-width="2.1" stroke-linejoin="round" stroke-linecap="round"/>
<path d="M536.2,434.8 C537.0,435.3 539.1,436.5 540.9,438.0 C542.7,439.5 545.4,443.4 547.2,443.6 C549.0,443.9 550.0,442.3 551.8,439.5 C553.6,436.7 556.0,430.6 558.1,427.0 C560.2,423.4 562.5,419.6 564.3,417.7 C566.1,415.8 567.7,415.5 569.0,415.5 C570.3,415.5 570.8,415.8 572.1,417.7 C573.4,419.6 575.2,425.2 576.8,427.0 C578.4,428.8 579.9,429.3 581.5,428.6 C583.1,427.9 585.0,424.0 586.2,423.0 C587.4,422.0 587.9,421.5 588.7,422.4 C589.5,423.3 590.0,426.3 590.9,428.6 C591.8,430.9 593.0,434.8 594.0,436.4 C595.0,438.0 596.1,438.3 597.1,438.0 C598.1,437.7 598.9,436.1 600.2,434.8 C601.5,433.5 603.3,432.5 604.9,430.2 C606.5,427.9 608.5,423.1 609.6,420.8 C610.8,418.5 611.1,421.6 611.8,416.1 C612.5,410.6 612.9,396.3 613.6,388.0 C614.3,379.7 615.1,372.9 615.8,366.2 C616.5,359.4 617.2,352.2 618.0,347.5 C618.8,342.8 619.8,338.1 620.5,338.1 C621.2,338.1 621.8,343.6 622.4,347.5 C623.0,351.4 623.7,361.0 624.3,361.5 C624.9,362.0 625.5,355.0 626.1,350.6 C626.7,346.2 627.4,338.4 628.0,335.0 C628.6,331.6 629.3,329.3 629.9,330.3 C630.5,331.3 631.1,335.7 631.7,341.2 C632.3,346.7 633.0,355.3 633.6,363.1 C634.2,370.9 634.8,380.5 635.5,388.0 C636.2,395.5 637.0,405.7 637.7,408.3 C638.4,410.9 639.1,406.5 639.9,403.6 C640.7,400.7 641.7,394.0 642.4,391.1 C643.1,388.2 643.4,386.0 643.9,386.5 C644.4,387.0 645.0,391.1 645.5,394.3 C646.0,397.6 646.5,402.6 647.0,406.0 C647.5,409.4 648.2,413.1 648.4,414.5" fill="none" stroke="#4a0b68" stroke-width="2.1" stroke-linejoin="round" stroke-linecap="round"/>
<path d="M648.4,414.5 L649.5,410.0 L650.3,404.0 L651.0,408.0 L652.0,402.0 L653.0,405.0 L654.0,400.5 L655.5,403.0 L657.0,401.0 L658.5,404.0 L660.0,401.5 L661.5,404.0 L663.0,402.0 L664.8,404.5 L666.5,405.0 L668.0,407.0 L669.7,409.7 L672.0,410.0" fill="none" stroke="#4a0b68" stroke-width="2.1" stroke-linejoin="round" stroke-linecap="round"/>
</g>
<rect x="500.30" y="282.10" width="151.70" height="14.70" fill="#000"/>
<g filter="url(#bl)">
<rect x="502.00" y="283.90" width="148.30" height="11.10" fill="url(#sg)"/>
<rect x="504.10" y="286.00" width="7.20" height="7.00" fill="#fffad8"/>
<rect x="510.81" y="286.50" width="6.20" height="6.00" fill="#500c9e"/>
<rect x="517.02" y="286.50" width="6.20" height="6.00" fill="#1c0a60"/>
<rect x="522.73" y="287.00" width="7.20" height="7.00" fill="#fffff0"/>
<rect x="529.44" y="286.50" width="6.20" height="6.00" fill="#9a169e"/>
<rect x="535.65" y="286.50" width="6.20" height="6.00" fill="#420ea0"/>
<rect x="541.86" y="286.50" width="6.20" height="6.00" fill="#9a1c9c"/>
<rect x="548.07" y="286.50" width="6.20" height="6.00" fill="#fb9020"/>
<rect x="554.28" y="286.50" width="6.20" height="6.00" fill="#9018a4"/>
<rect x="560.49" y="286.50" width="6.20" height="6.00" fill="#420ea0"/>
<rect x="566.70" y="286.50" width="6.20" height="6.00" fill="#a42094"/>
<rect x="572.91" y="286.50" width="6.20" height="6.00" fill="#420ea0"/>
<rect x="579.12" y="286.50" width="6.20" height="6.00" fill="#1a0870"/>
<rect x="585.33" y="286.50" width="6.20" height="6.00" fill="#f26030"/>
<rect x="591.04" y="286.30" width="7.20" height="7.00" fill="#fffff0"/>
<rect x="597.75" y="286.50" width="6.20" height="6.00" fill="#d43470"/>
<rect x="603.96" y="286.50" width="6.20" height="6.00" fill="#061010"/>
<rect x="610.17" y="286.50" width="6.20" height="6.00" fill="#420ea0"/>
<rect x="615.88" y="286.00" width="7.20" height="7.00" fill="#fff8c8"/>
<rect x="622.09" y="287.00" width="7.20" height="7.00" fill="#ffe468"/>
<rect x="628.80" y="286.50" width="6.20" height="6.00" fill="#420ea0"/>
<rect x="635.01" y="286.50" width="6.20" height="6.00" fill="#061010"/>
<rect x="641.22" y="286.50" width="6.20" height="6.00" fill="#0a0a30"/>
</g>
<rect x="505.10" y="287.00" width="5.20" height="5.00" fill="#fffad8" opacity="0.85"/>
<rect x="511.31" y="287.00" width="5.20" height="5.00" fill="#500c9e" opacity="0.85"/>
<rect x="517.52" y="287.00" width="5.20" height="5.00" fill="#1c0a60" opacity="0.85"/>
<rect x="523.73" y="288.00" width="5.20" height="5.00" fill="#fffff0" opacity="0.85"/>
<rect x="529.94" y="287.00" width="5.20" height="5.00" fill="#9a169e" opacity="0.85"/>
<rect x="536.15" y="287.00" width="5.20" height="5.00" fill="#420ea0" opacity="0.85"/>
<rect x="542.36" y="287.00" width="5.20" height="5.00" fill="#9a1c9c" opacity="0.85"/>
<rect x="548.57" y="287.00" width="5.20" height="5.00" fill="#fb9020" opacity="0.85"/>
<rect x="554.78" y="287.00" width="5.20" height="5.00" fill="#9018a4" opacity="0.85"/>
<rect x="560.99" y="287.00" width="5.20" height="5.00" fill="#420ea0" opacity="0.85"/>
<rect x="567.20" y="287.00" width="5.20" height="5.00" fill="#a42094" opacity="0.85"/>
<rect x="573.41" y="287.00" width="5.20" height="5.00" fill="#420ea0" opacity="0.85"/>
<rect x="579.62" y="287.00" width="5.20" height="5.00" fill="#1a0870" opacity="0.85"/>
<rect x="585.83" y="287.00" width="5.20" height="5.00" fill="#f26030" opacity="0.85"/>
<rect x="592.04" y="287.30" width="5.20" height="5.00" fill="#fffff0" opacity="0.85"/>
<rect x="598.25" y="287.00" width="5.20" height="5.00" fill="#d43470" opacity="0.85"/>
<rect x="604.46" y="287.00" width="5.20" height="5.00" fill="#061010" opacity="0.85"/>
<rect x="610.67" y="287.00" width="5.20" height="5.00" fill="#420ea0" opacity="0.85"/>
<rect x="616.88" y="287.00" width="5.20" height="5.00" fill="#fff8c8" opacity="0.85"/>
<rect x="623.09" y="288.00" width="5.20" height="5.00" fill="#ffe468" opacity="0.85"/>
<rect x="629.30" y="287.00" width="5.20" height="5.00" fill="#420ea0" opacity="0.85"/>
<rect x="635.51" y="287.00" width="5.20" height="5.00" fill="#061010" opacity="0.85"/>
<rect x="641.72" y="287.00" width="5.20" height="5.00" fill="#0a0a30" opacity="0.85"/>
<rect x="396.90" y="266.65" width="26.2" height="24.6" fill="#000"/>
<text x="410.10" y="283.65" text-anchor="middle" style="fill:#fff">(d)</text>
<rect x="397.80" y="267.15" width="272.40" height="195.25" fill="none" stroke="#000" stroke-width="1.70"/>
<text x="397.80" y="479.70" text-anchor="middle">1.25</text>
<text x="443.20" y="479.70" text-anchor="middle">1.30</text>
<text x="488.60" y="479.70" text-anchor="middle">1.35</text>
<text x="534.00" y="479.70" text-anchor="middle">1.40</text>
<text x="579.40" y="479.70" text-anchor="middle">1.45</text>
<text x="624.80" y="479.70" text-anchor="middle">1.50</text>
<text x="670.20" y="479.70" text-anchor="middle">1.55</text>
<text x="392.40" y="459.20" text-anchor="end">0</text>
<text x="392.40" y="428.21" text-anchor="end">2</text>
<text x="392.40" y="397.22" text-anchor="end">4</text>
<text x="392.40" y="366.23" text-anchor="end">6</text>
<text x="392.40" y="335.23" text-anchor="end">8</text>
<text x="392.40" y="304.24" text-anchor="end">10</text>
<text x="392.40" y="273.25" text-anchor="end">12</text>
<path d="M397.80,462.40 v-5.00 M397.80,267.15 v5.00 M443.20,462.40 v-5.00 M443.20,267.15 v5.00 M488.60,462.40 v-5.00 M488.60,267.15 v5.00 M534.00,462.40 v-5.00 M534.00,267.15 v5.00 M579.40,462.40 v-5.00 M579.40,267.15 v5.00 M624.80,462.40 v-5.00 M624.80,267.15 v5.00 M670.20,462.40 v-5.00 M670.20,267.15 v5.00 M397.80,453.10 h5.00 M670.20,453.10 h-5.00 M397.80,422.11 h5.00 M670.20,422.11 h-5.00 M397.80,391.12 h5.00 M670.20,391.12 h-5.00 M397.80,360.13 h5.00 M670.20,360.13 h-5.00 M397.80,329.13 h5.00 M670.20,329.13 h-5.00 M397.80,298.14 h5.00 M670.20,298.14 h-5.00 M397.80,267.15 h5.00 M670.20,267.15 h-5.00" stroke="#000" stroke-width="1.25" fill="none"/>
<text x="534.00" y="499.25" text-anchor="middle" style="font-size:15.75px">wavelength [µm]</text>
<text transform="translate(366.10,365.38) rotate(-90)" text-anchor="middle" style="font-size:15.75px">spectral power [µW]</text>
<path d="M589.4,21.9 H621" stroke="#000" stroke-width="1.7" stroke-dasharray="1.6 2.54" fill="none"/>
<path d="M589.1,44 H621.6" stroke="#000" stroke-width="1.75" fill="none"/>
<text x="633.2" y="27.7">RT</text>
<text x="633.2" y="50.0">opt.</text>
</svg></body></html>
